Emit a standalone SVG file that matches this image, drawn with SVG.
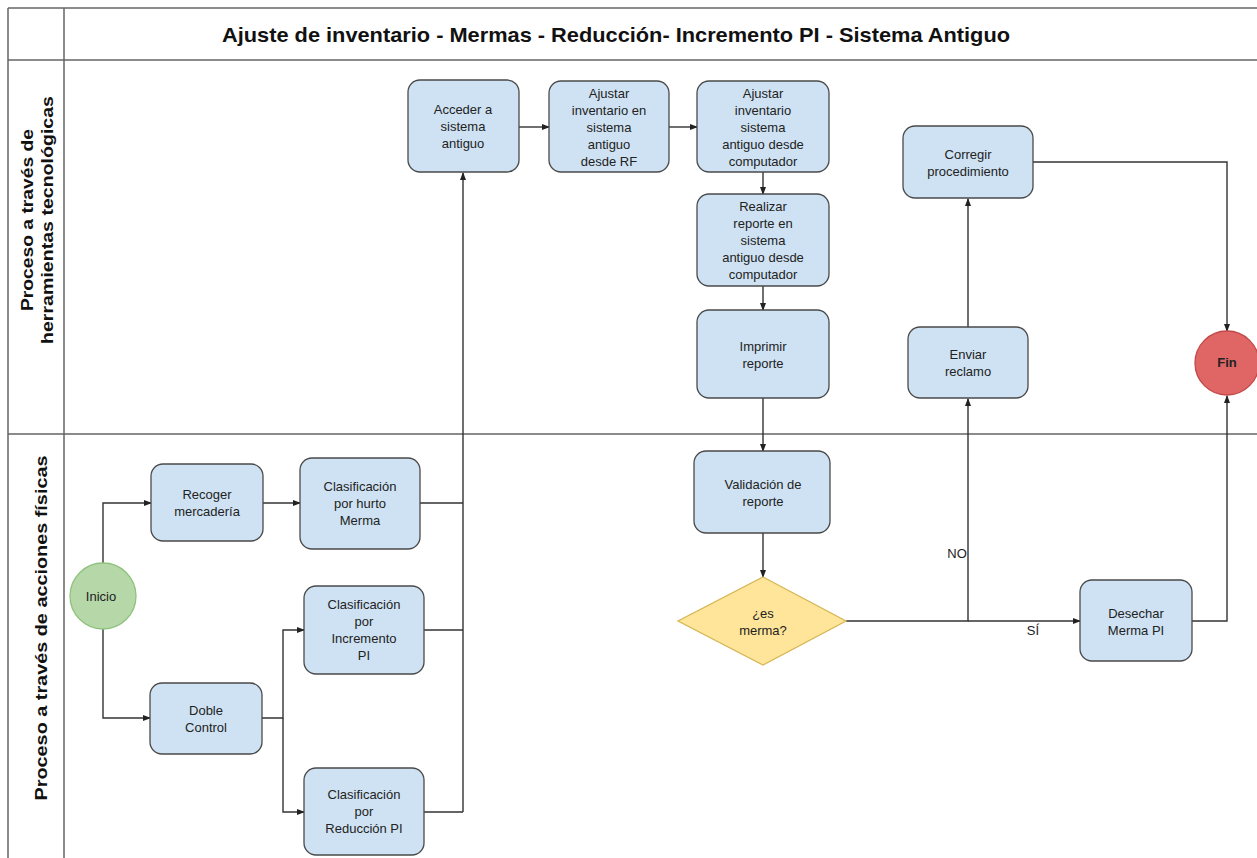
<svg xmlns="http://www.w3.org/2000/svg" width="1257" height="858" viewBox="0 0 1257 858">
<defs>
<style>
.box{fill:#cfe2f3;stroke:#4a4a4a;stroke-width:1.3}
.t{font-family:"Liberation Sans",Arial,sans-serif;font-size:13px;fill:#222;text-anchor:middle}
.ln{fill:none;stroke:#333;stroke-width:1.4}
.fr{fill:none;stroke:#666;stroke-width:1.5}
.lane{font-family:"Liberation Sans",Arial,sans-serif;font-size:17px;font-weight:bold;fill:#111;text-anchor:middle}
</style>
<marker id="ar" markerWidth="8" markerHeight="8" refX="7" refY="4" orient="auto" markerUnits="userSpaceOnUse">
<path d="M0,1 L8,4 L0,7 z" fill="#222"/>
</marker>
</defs>
<rect width="1257" height="858" fill="#fff"/>
<g id="frame">
<path class="fr" d="M8,8 H1257 M8,8 V858 M64,8 V858 M8,60 H1257 M8,434 H1257"/>
<text x="616" y="42" font-family="'Liberation Sans Narrow','Liberation Sans',Arial,sans-serif" font-size="21" font-weight="bold" text-anchor="middle" fill="#111" textLength="788" lengthAdjust="spacingAndGlyphs">Ajuste de inventario - Mermas - Reducción- Incremento PI - Sistema Antiguo</text>
<text class="lane" transform="translate(36,220) rotate(-90)"><tspan x="0" y="-3" textLength="182" lengthAdjust="spacingAndGlyphs">Proceso a través de</tspan><tspan x="0" y="17" textLength="248" lengthAdjust="spacingAndGlyphs">herramientas tecnológicas</tspan></text>
<text class="lane" transform="translate(47,628) rotate(-90)" textLength="345" lengthAdjust="spacingAndGlyphs">Proceso a través de acciones físicas</text>
</g>
<g id="connectors">
<path class="ln" d="M103,563 V503 H151" marker-end="url(#ar)"/>
<path class="ln" d="M103,629 V718 H150" marker-end="url(#ar)"/>
<path class="ln" d="M263,503 H300" marker-end="url(#ar)"/>
<path class="ln" d="M262,718 H283 V630 H304" marker-end="url(#ar)"/>
<path class="ln" d="M283,718 V812 H304" marker-end="url(#ar)"/>
<path class="ln" d="M420,503 H463 M424,630 H463 M424,812 H463"/>
<path class="ln" d="M463,812 V173" marker-end="url(#ar)"/>
<path class="ln" d="M519,127 H549" marker-end="url(#ar)"/>
<path class="ln" d="M669,127 H697" marker-end="url(#ar)"/>
<path class="ln" d="M763,172 V194" marker-end="url(#ar)"/>
<path class="ln" d="M763,286 V310" marker-end="url(#ar)"/>
<path class="ln" d="M763,398 V451" marker-end="url(#ar)"/>
<path class="ln" d="M763,533 V577" marker-end="url(#ar)"/>
<path class="ln" d="M846,621 H968 V399" marker-end="url(#ar)"/>
<path class="ln" d="M968,621 H1080" marker-end="url(#ar)"/>
<path class="ln" d="M1192,621 H1227 V396" marker-end="url(#ar)"/>
<path class="ln" d="M968,327 V199" marker-end="url(#ar)"/>
<path class="ln" d="M1033,162 H1227 V331" marker-end="url(#ar)"/>
<text class="t" x="957" y="558">NO</text>
<text class="t" x="1033" y="635">SÍ</text>
</g>
<g id="inicio">
<circle cx="103" cy="596" r="33" fill="#b6d7a8" stroke="#8fc27e" stroke-width="1.3"/>
<text class="t" x="101" y="601">Inicio</text>
</g>
<g id="recoger">
<rect class="box" x="151" y="464" width="112" height="77" rx="12"/>
<text class="t" x="207" y="499">Recoger</text><text class="t" x="207" y="516">mercadería</text>
</g>
<g id="hurto">
<rect class="box" x="300" y="458" width="120" height="91" rx="12"/>
<text class="t" x="360" y="491">Clasificación</text><text class="t" x="360" y="508">por hurto</text><text class="t" x="360" y="525">Merma</text>
</g>
<g id="incremento">
<rect class="box" x="304" y="586" width="120" height="88" rx="12"/>
<text class="t" x="364" y="609">Clasificación</text><text class="t" x="364" y="626">por</text><text class="t" x="364" y="643">Incremento</text><text class="t" x="364" y="660">PI</text>
</g>
<g id="doble">
<rect class="box" x="150" y="683" width="112" height="71" rx="12"/>
<text class="t" x="206" y="715">Doble</text><text class="t" x="206" y="732">Control</text>
</g>
<g id="reduccion">
<rect class="box" x="304" y="768" width="120" height="87" rx="12"/>
<text class="t" x="364" y="799">Clasificación</text><text class="t" x="364" y="816">por</text><text class="t" x="364" y="833">Reducción PI</text>
</g>
<g id="acceder">
<rect class="box" x="408" y="80" width="111" height="92" rx="12"/>
<text class="t" x="463" y="114">Acceder a</text><text class="t" x="463" y="131">sistema</text><text class="t" x="463" y="148">antiguo</text>
</g>
<g id="ajustar-rf">
<rect class="box" x="549" y="81" width="120" height="91" rx="12"/>
<text class="t" x="609" y="98">Ajustar</text><text class="t" x="609" y="115">inventario en</text><text class="t" x="609" y="132">sistema</text><text class="t" x="609" y="149">antiguo</text><text class="t" x="609" y="166">desde RF</text>
</g>
<g id="ajustar-comp">
<rect class="box" x="697" y="81" width="132" height="91" rx="12"/>
<text class="t" x="763" y="98">Ajustar</text><text class="t" x="763" y="115">inventario</text><text class="t" x="763" y="132">sistema</text><text class="t" x="763" y="149">antiguo desde</text><text class="t" x="763" y="166">computador</text>
</g>
<g id="realizar">
<rect class="box" x="697" y="194" width="132" height="92" rx="12"/>
<text class="t" x="763" y="211">Realizar</text><text class="t" x="763" y="228">reporte en</text><text class="t" x="763" y="245">sistema</text><text class="t" x="763" y="262">antiguo desde</text><text class="t" x="763" y="279">computador</text>
</g>
<g id="imprimir">
<rect class="box" x="697" y="310" width="132" height="88" rx="12"/>
<text class="t" x="763" y="351">Imprimir</text><text class="t" x="763" y="368">reporte</text>
</g>
<g id="validacion">
<rect class="box" x="694" y="451" width="136" height="82" rx="12"/>
<text class="t" x="763" y="489">Validación de</text><text class="t" x="763" y="506">reporte</text>
</g>
<g id="esmerma">
<path d="M763,577 L846,621 L763,665 L678,621 z" fill="#ffe599" stroke="#d6b656" stroke-width="1.3"/>
<text class="t" x="763" y="618">¿es</text><text class="t" x="763" y="635">merma?</text>
</g>
<g id="desechar">
<rect class="box" x="1080" y="580" width="112" height="81" rx="12"/>
<text class="t" x="1136" y="618">Desechar</text><text class="t" x="1136" y="635">Merma PI</text>
</g>
<g id="enviar">
<rect class="box" x="908" y="327" width="120" height="71" rx="12"/>
<text class="t" x="968" y="359">Enviar</text><text class="t" x="968" y="376">reclamo</text>
</g>
<g id="corregir">
<rect class="box" x="903" y="126" width="130" height="72" rx="12"/>
<text class="t" x="968" y="159">Corregir</text><text class="t" x="968" y="176">procedimiento</text>
</g>
<g id="fin">
<circle cx="1227" cy="363" r="32" fill="#e06666" stroke="#c04848" stroke-width="1.3"/>
<text class="t" x="1227" y="367" font-weight="bold" font-size="12">Fin</text>
</g>
</svg>
